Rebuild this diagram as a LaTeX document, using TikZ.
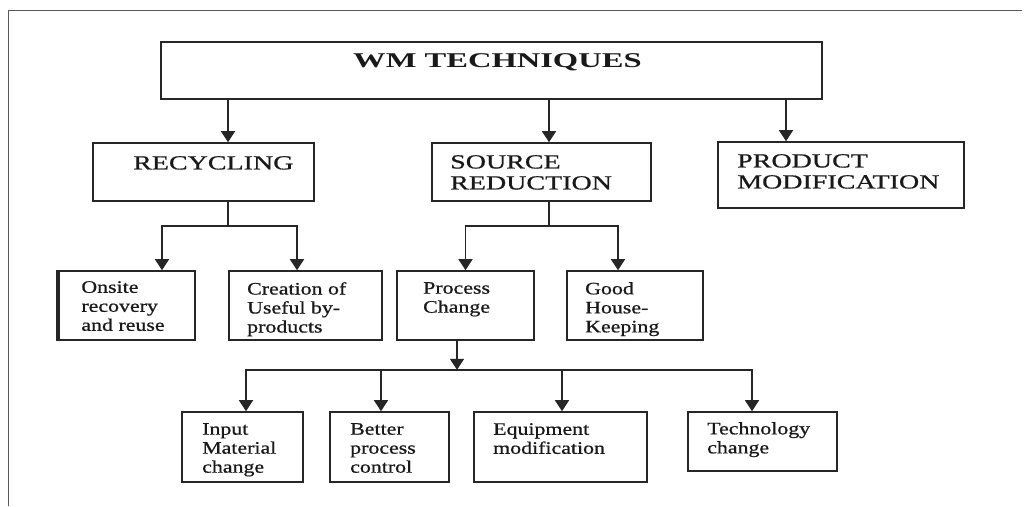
\documentclass[tikz,border=0pt]{standalone}
\usepackage{fontspec}
\setmainfont[FakeStretch=1.25, FakeBold=0.8]{Liberation Serif}
\newfontfamily\capsfont[FakeStretch=1.4, FakeBold=0.8]{Liberation Serif}
\newfontfamily\headfont[FakeStretch=1.55]{Liberation Serif}
\usetikzlibrary{arrows.meta}

\begin{document}
\begin{tikzpicture}[x=1pt, y=-1pt,
        every text node part/.style={align=left},
        box/.style={draw=black!85, line width=1.6pt, inner sep=0pt},
        lbl/.style={anchor=north west, inner sep=0pt, text=black!90, font=\fontsize{17.5}{19}\selectfont},
        caplbl/.style={lbl, font=\capsfont\fontsize{20}{21}\selectfont},
        link/.style={draw=black!85, line width=1.6pt},
        >={Triangle[width=14pt, length=11pt]}]
        \useasboundingbox (0,0) rectangle (1032,506);
        \draw[black!65, line width=1pt] (1022,10) -- (8,10) -- (8,506);

        \node[box, minimum width=661pt, minimum height=57pt] (wm) at (491.5,70.5) {};
        \node[box, minimum width=221pt, minimum height=58pt] (recyc) at (203.5,172) {};
        \node[box, minimum width=219pt, minimum height=58pt] (srcred) at (541.5,172) {};
        \node[box, minimum width=246pt, minimum height=66pt] (prodmod) at (841,175) {};

        \node[box, minimum width=137pt, minimum height=69pt] (onsite) at (126.5,305.5) {};
        \node[box, minimum width=153pt, minimum height=69pt] (byprod) at (305.5,305.5) {};
        \node[box, minimum width=137pt, minimum height=69pt] (procch) at (465.5,305.5) {};
        \node[box, minimum width=136pt, minimum height=69pt] (housek) at (635,305.5) {};
        \draw[black!85, line width=4pt] ([xshift=1pt]onsite.north west) -- ([xshift=1pt]onsite.south west);

        \node[box, minimum width=121pt, minimum height=70pt] (inputm) at (242.5,447) {};
        \node[box, minimum width=119pt, minimum height=70pt] (betterp) at (389.5,447) {};
        \node[box, minimum width=173pt, minimum height=70pt] (equip) at (560.5,447) {};
        \node[box, minimum width=149pt, minimum height=59pt] (techch) at (762.5,441.5) {};

        \node(wmtext) at (353,53)[lbl, font=\headfont\bfseries\fontsize{21}{21}\selectfont]{WM TECHNIQUES};
        \node(recyctext) at (133,156)[caplbl]{RECYCLING};
        \node(srcredtext) at (450,155)[caplbl]{SOURCE\\REDUCTION};
        \node(prodmodtext) at (737,154)[caplbl]{PRODUCT\\MODIFICATION};

        \node(onsitetext) at (123,281)[lbl, anchor=north, align=center]{Onsite\\recovery\\and reuse};
        \node(byprodtext) at (247,282)[lbl]{Creation of\\Useful by-\\products};
        \node(procchtext) at (423,282)[lbl]{Process\\Change};
        \node(housektext) at (585,282)[lbl]{Good\\House-\\Keeping};

        \node(inputmtext) at (202,423)[lbl]{Input\\Material\\change};
        \node(betterptext) at (350,423)[lbl]{Better\\process\\control};
        \node(equiptext) at (493,423)[lbl]{Equipment\\modification};
        \node(techchtext) at (707,422)[lbl]{Technology\\change};

        \coordinate (aR) at ([xshift=24.5pt]recyc.north);
        \coordinate (aS) at ([xshift=7.5pt]srcred.north);
        \coordinate (aP) at ([xshift=-55pt]prodmod.north);
        \draw[link, ->] (aR |- wm.south) -- (aR);
        \draw[link, ->] (aS |- wm.south) -- (aS);
        \draw[link, ->] (aP |- wm.south) -- (aP);

        \draw[link] ([xshift=24.5pt]recyc.south) -- ++(0,24) coordinate (jR);
        \draw[link, ->] (jR) -| ([xshift=35.5pt]onsite.north);
        \draw[link, ->] (jR) -| ([xshift=-8.5pt]byprod.north);

        \draw[link] ([xshift=7.5pt]srcred.south) -- ++(0,24) coordinate (jS);
        \draw[link, ->] (jS) -| (procch.north);
        \draw[link, ->] (jS) -| ([xshift=-17pt]housek.north);

        \draw[link, ->] ([xshift=-8.5pt]procch.south) -- ++(0,29) coordinate (jP);
        \draw[link, ->] (jP) -| ([xshift=3.5pt]inputm.north);
        \draw[link, ->] (jP) -| ([xshift=-8.5pt]betterp.north);
        \draw[link, ->] (jP) -| ([xshift=1.5pt]equip.north);
        \draw[link, ->] (jP) -| ([xshift=-10.5pt]techch.north);

    \end{tikzpicture}
\end{document}
